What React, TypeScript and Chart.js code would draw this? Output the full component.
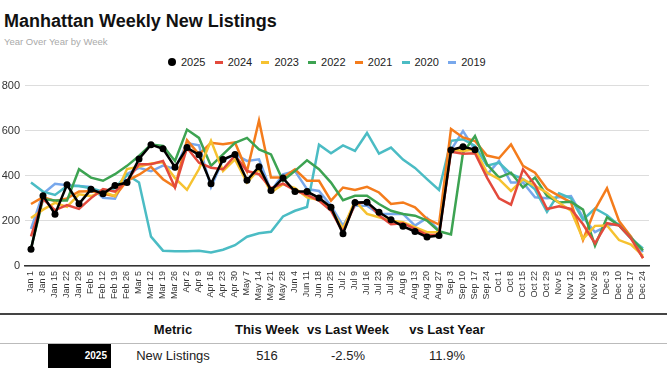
import React, { useEffect, useRef } from 'react';
import { Chart, registerables } from 'chart.js';

Chart.register(...registerables);

const weeks = [
  'Jan 1', 'Jan 8', 'Jan 15', 'Jan 22', 'Jan 29', 'Feb 5', 'Feb 12', 'Feb 19', 'Feb 26',
  'Mar 5', 'Mar 12', 'Mar 19', 'Mar 26', 'Apr 2', 'Apr 9', 'Apr 16', 'Apr 23', 'Apr 30',
  'May 7', 'May 14', 'May 21', 'May 28', 'Jun 4', 'Jun 11', 'Jun 18', 'Jun 25',
  'Jul 2', 'Jul 9', 'Jul 16', 'Jul 23', 'Jul 30', 'Aug 6', 'Aug 13', 'Aug 20', 'Aug 27',
  'Sep 3', 'Sep 10', 'Sep 17', 'Sep 24', 'Oct 1', 'Oct 8', 'Oct 15', 'Oct 22', 'Oct 29',
  'Nov 5', 'Nov 12', 'Nov 19', 'Nov 26', 'Dec 3', 'Dec 10', 'Dec 17', 'Dec 24',
];

const y2025 = [74, 312, 230, 360, 276, 340, 320, 357, 370, 475, 538, 520, 438, 525, 493, 365, 472, 495, 380, 440, 335, 390, 330, 330, 302, 260, 143, 282, 283, 238, 205, 176, 153, 129, 135, 514, 529, 516];
const y2024 = [131, 297, 248, 270, 253, 301, 341, 330, 378, 451, 451, 466, 348, 524, 458, 436, 429, 490, 421, 407, 345, 365, 335, 315, 290, 245, 150, 275, 285, 225, 185, 190, 165, 138, 138, 507, 498, 500, 392, 300, 272, 429, 360, 253, 265, 253, 185, 100, 190, 180, 122, 35];
const y2023 = [213, 250, 280, 262, 318, 310, 330, 310, 430, 440, 455, 460, 390, 338, 430, 555, 421, 473, 370, 429, 326, 363, 345, 304, 293, 253, 165, 289, 231, 216, 201, 194, 172, 150, 150, 517, 510, 517, 414, 385, 333, 385, 355, 325, 280, 245, 120, 178, 180, 115, 95, 45];
const y2022 = [77, 297, 290, 290, 429, 392, 378, 407, 444, 488, 539, 532, 466, 605, 568, 444, 495, 546, 568, 517, 495, 378, 422, 469, 429, 370, 292, 311, 312, 275, 245, 231, 223, 201, 154, 140, 502, 576, 451, 392, 414, 348, 392, 311, 282, 285, 250, 90, 216, 180, 125, 69];
const y2021 = [275, 305, 288, 300, 330, 332, 320, 310, 378, 405, 440, 385, 350, 558, 495, 546, 540, 548, 420, 645, 392, 392, 429, 378, 378, 290, 348, 337, 351, 326, 275, 282, 260, 209, 184, 608, 570, 554, 490, 478, 539, 444, 414, 341, 311, 282, 115, 250, 345, 200, 130, 35];
const y2020 = [370, 330, 315, 355, 355, 345, 330, 345, 405, 370, 130, 68, 65, 65, 68, 60, 72, 92, 130, 145, 152, 220, 245, 262, 538, 500, 535, 510, 590, 498, 525, 472, 435, 385, 337, 555, 562, 532, 445, 458, 408, 385, 340, 240, 322, 300, 205, 255, 225, 180, 122, 78];
const y2019 = [165, 320, 365, 358, 355, 350, 302, 298, 408, 435, 420, 445, 430, 545, 535, 350, 470, 495, 466, 473, 333, 407, 421, 341, 333, 267, 179, 267, 267, 231, 231, 231, 179, 213, 157, 515, 598, 515, 405, 466, 370, 370, 305, 300, 305, 310, 216, 150, 179, 187, 128, 62];

const seriesNames = ['2025', '2024', '2023', '2022', '2021', '2020', '2019'];
const seriesColors = ['#000000', '#E34A3C', '#F6C230', '#3DA352', '#F47C1C', '#4BBCC4', '#78A8EC'];
const seriesData = [y2025, y2024, y2023, y2022, y2021, y2020, y2019];

const yTicks = [0, 200, 400, 600, 800];

const tableHeaders = ['Metric', 'This Week', 'vs Last Week', 'vs Last Year'];
const tableRow = ['New Listings', '516', '-2.5%', '11.9%'];
const tableYear = '2025';

const FONT = '"Liberation Sans", Arial, Helvetica, sans-serif';

export default function App() {
  const canvasRef = useRef<HTMLCanvasElement>(null);

  useEffect(() => {
    const canvas = canvasRef.current;
    if (!canvas) return;
    Chart.defaults.font.family = FONT;
    const chart = new Chart(canvas, {
      type: 'line',
      data: {
        labels: weeks,
        datasets: seriesData.map((d, i) => ({
          label: seriesNames[i],
          data: d,
          borderColor: seriesColors[i],
          backgroundColor: seriesColors[i],
          borderWidth: 2.5,
          pointRadius: i === 0 ? 3.5 : 0,
          pointBackgroundColor: seriesColors[i],
          pointBorderWidth: 0,
          tension: 0,
          fill: false,
        })),
      },
      options: {
        animation: false,
        responsive: false,
        maintainAspectRatio: false,
        layout: { padding: { top: 10, right: 20, left: 0, bottom: 0 } },
        plugins: {
          legend: { display: false },
          title: { display: false },
          tooltip: { enabled: false },
        },
        scales: {
          x: {
            offset: true,
            grid: { display: false, drawTicks: false },
            border: { display: true, color: '#333333', width: 1.5 },
            ticks: {
              autoSkip: false,
              minRotation: 90,
              maxRotation: 90,
              padding: 5,
              color: '#333333',
              font: { size: 9, family: FONT },
            },
            afterFit: (s: any) => {
              s.height = 44;
            },
          },
          y: {
            min: yTicks[0],
            max: yTicks[yTicks.length - 1],
            grid: { color: '#dddddd', lineWidth: 1, drawTicks: false },
            border: { display: false },
            ticks: {
              stepSize: 200,
              padding: 5,
              color: '#333333',
              font: { size: 11, family: FONT },
            },
            afterFit: (s: any) => {
              s.width = 25;
            },
          },
        },
      },
    });
    return () => chart.destroy();
  }, []);

  const legendX0 = 168;
  const legendPitch = 46.7;

  const colCenters = [173, 267, 348, 447];

  return (
    <div
      style={{
        position: 'fixed',
        left: 0,
        top: 0,
        width: 669,
        height: 368,
        background: '#ffffff',
        overflow: 'hidden',
        fontFamily: FONT,
        color: '#111',
      }}
    >
      <div
        style={{
          position: 'absolute',
          left: 4,
          top: 12,
          fontSize: 18,
          lineHeight: '18px',
          fontWeight: 'bold',
          whiteSpace: 'nowrap',
          color: '#111',
        }}
      >
        Manhattan Weekly New Listings
      </div>
      <div
        style={{
          position: 'absolute',
          left: 4,
          top: 37,
          fontSize: 9.5,
          lineHeight: '10px',
          color: '#aaaaaa',
          whiteSpace: 'nowrap',
        }}
      >
        Year Over Year by Week
      </div>

      {seriesNames.map((name, i) => (
        <div
          key={name}
          style={{
            position: 'absolute',
            left: legendX0 + i * legendPitch,
            top: 56,
            height: 12,
            display: 'flex',
            alignItems: 'center',
            whiteSpace: 'nowrap',
          }}
        >
          {i === 0 ? (
            <div
              style={{
                width: 8,
                height: 8,
                borderRadius: 4,
                background: seriesColors[i],
                marginRight: 5,
              }}
            />
          ) : (
            <div
              style={{
                width: 8,
                height: 3,
                background: seriesColors[i],
                marginRight: 5,
              }}
            />
          )}
          <span style={{ fontSize: 11, lineHeight: '12px', color: '#222' }}>{name}</span>
        </div>
      ))}

      <canvas
        ref={canvasRef}
        width={669}
        height={236}
        style={{ position: 'absolute', left: 0, top: 74, width: 669, height: 236 }}
      />

      <div style={{ position: 'absolute', left: 0, top: 313, width: 667, height: 2, background: '#444' }} />
      {tableHeaders.map((h, i) => (
        <div
          key={h}
          style={{
            position: 'absolute',
            left: colCenters[i] - 70,
            width: 140,
            top: 323,
            lineHeight: '14px',
            fontSize: 13,
            fontWeight: 'bold',
            textAlign: 'center',
            color: '#111',
          }}
        >
          {h}
        </div>
      ))}
      <div style={{ position: 'absolute', left: 0, top: 343, width: 667, height: 1, background: '#bbbbbb' }} />
      <div
        style={{
          position: 'absolute',
          left: 48,
          top: 344,
          width: 63,
          height: 26,
          background: '#000',
          color: '#fff',
          fontSize: 10,
          fontWeight: 'bold',
          textAlign: 'right',
          lineHeight: '24px',
          paddingRight: 4,
          boxSizing: 'border-box',
        }}
      >
        {tableYear}
      </div>
      {tableRow.map((v, i) => (
        <div
          key={i}
          style={{
            position: 'absolute',
            left: colCenters[i] - 70,
            width: 140,
            top: 349,
            lineHeight: '14px',
            fontSize: 13,
            textAlign: 'center',
            color: '#222',
          }}
        >
          {v}
        </div>
      ))}
    </div>
  );
}
